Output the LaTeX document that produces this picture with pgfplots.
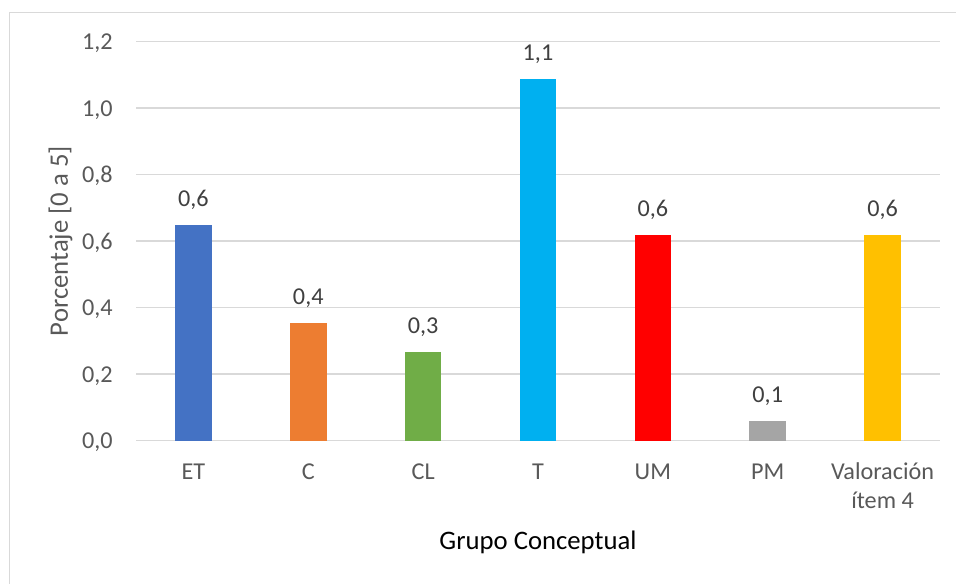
\documentclass[border=0pt]{standalone}
\usepackage{fontspec}
\setmainfont{Carlito}
\usepackage{pgfplots}
\pgfplotsset{compat=1.18}

\definecolor{barET}{HTML}{4472C4}
\definecolor{barC}{HTML}{ED7D31}
\definecolor{barCL}{HTML}{70AD47}
\definecolor{barT}{HTML}{00B0F0}
\definecolor{barUM}{HTML}{FF0000}
\definecolor{barPM}{HTML}{A5A5A5}
\definecolor{barVal}{HTML}{FFC000}
\definecolor{gridgray}{HTML}{D9D9D9}
\definecolor{ticktext}{HTML}{595959}
\definecolor{labeltext}{HTML}{404040}

\newcommand\tickfont{\fontsize{12.15pt}{14.2pt}\selectfont}
\newcommand\titlefont{\fontsize{13.4pt}{16pt}\selectfont}

\begin{document}
\begin{tikzpicture}
% chart area frame
\draw[gridgray, line width=0.75bp] (4.65bp,-10bp) -- (4.65bp,285.85bp) -- (490bp,285.85bp);
\begin{axis}[
  at={(68bp,71.65bp)}, anchor=south west,
  scale only axis, width=402bp, height=199.5bp,
  xmin=-0.5, xmax=6.5, ymin=0, ymax=1.2,
  ybar, bar width=18.25bp, bar shift=0pt,
  axis line style={draw=none},
  major tick length=0pt,
  ymajorgrids, grid style={gridgray, line width=0.7bp},
  ytick={0,0.2,0.4,0.6,0.8,1.0,1.2},
  xtick={0,1,2,3,4,5,6},
  xticklabels={\strut ET,\strut C,\strut CL,\strut T,\strut UM,\strut PM,{\strut Valoración\\ítem 4}},
  /pgf/number format/.cd, fixed, fixed zerofill, precision=1, use comma, assume math mode=true,
  /pgfplots/.cd,
  yticklabel style={anchor=east, inner sep=0pt, text depth=0pt, xshift=-11.5bp, font=\tickfont, text=ticktext},
  xticklabel style={anchor=north, inner sep=0pt, align=center, yshift=-9.45pt, font=\tickfont, text=ticktext},
  ylabel={Porcentaje [0 a 5]},
  ylabel style={at={(axis description cs:-0.0939,0.5)}, anchor=center, font=\titlefont, text=ticktext},
  xlabel={Grupo Conceptual},
  xlabel style={at={(axis description cs:0.5,-0.2722)}, anchor=base, font=\titlefont, text=black},
  nodes near coords,
  every node near coord/.append style={inner sep=0pt, text depth=0pt, yshift=8.85bp, font=\tickfont, text=labeltext},
  clip=false,
]
\addplot[fill=barET, draw=none] coordinates {(0,0.649)};
\addplot[fill=barC, draw=none] coordinates {(1,0.354)};
\addplot[fill=barCL, draw=none] coordinates {(2,0.267)};
\addplot[fill=barT, draw=none] coordinates {(3,1.088)};
\addplot[fill=barUM, draw=none] coordinates {(4,0.619)};
\addplot[fill=barPM, draw=none] coordinates {(5,0.059)};
\addplot[fill=barVal, draw=none] coordinates {(6,0.619)};
\end{axis}
\pgfresetboundingbox
\path[use as bounding box] (0,0) rectangle (478bp,292bp);
\end{tikzpicture}
\end{document}
